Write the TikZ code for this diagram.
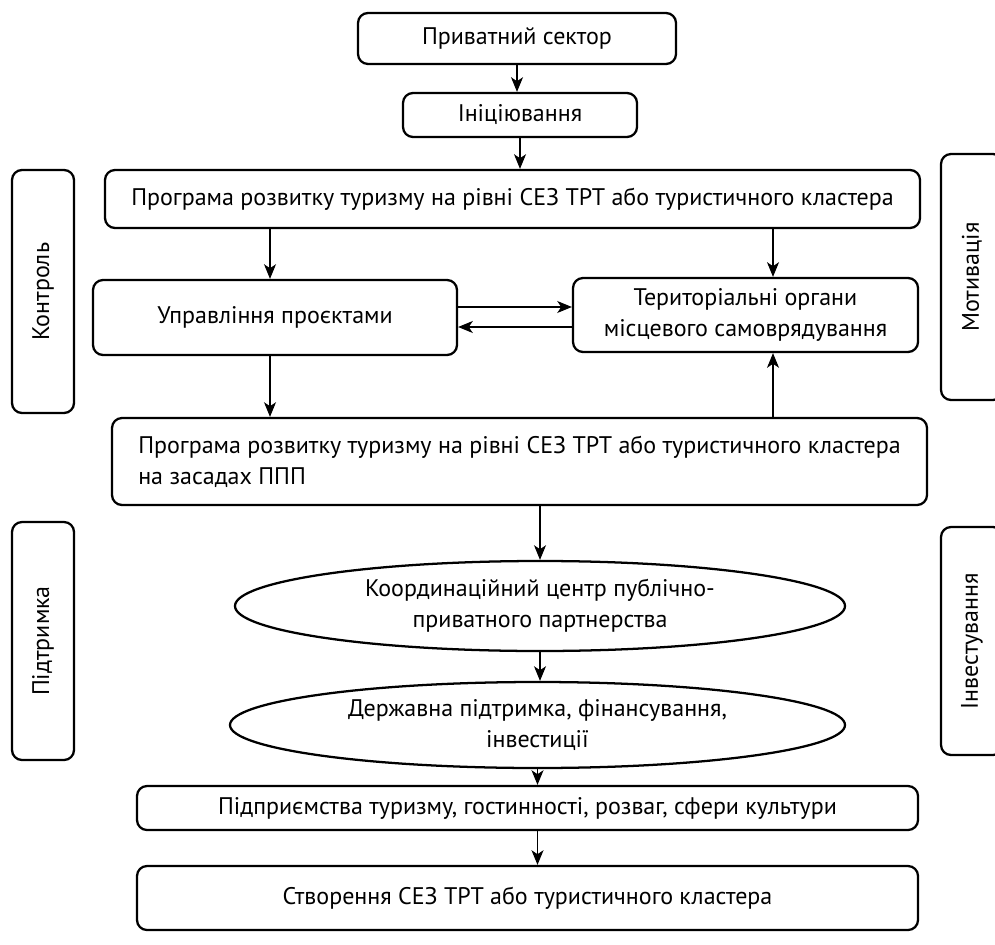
\documentclass[tikz,border=0pt]{standalone}
\usepackage{fontspec}
\setmainfont{PT Sans}
\usetikzlibrary{shapes.geometric,arrows.meta}

\begin{document}
\begin{tikzpicture}
  [x=0.75pt, y=-0.75pt, font=\fontsize{18}{23}\selectfont,
  box/.style={draw, rounded corners=7.5pt, line width=1.7pt, inner sep=0pt, align=center},
  side/.style={box, rotate=90, minimum height=62*0.75pt},
  oval/.style={draw, ellipse, line width=1.7pt, inner sep=0pt, align=center},
  link/.style={-{Stealth[length=11pt,width=9pt,inset=3pt]}, line width=0.8pt}]
  \useasboundingbox (0,0) rectangle (995,945);
  % main column
  \node[box, minimum width=318*0.75pt, minimum height=51*0.75pt] (private) at (517,38.5) {Приватний сектор};
  \node[box, minimum width=234*0.75pt, minimum height=44*0.75pt] (init) at (520,115) {Ініціювання};
  \node[box, minimum width=815*0.75pt, minimum height=58*0.75pt] (prog) at (512.5,199) {Програма розвитку туризму на рівні СЕЗ ТРТ або туристичного кластера};
  \node[box, minimum width=364*0.75pt, minimum height=75*0.75pt] (manage) at (275,317.5) {Управління проєктами};
  \node[box, minimum width=345*0.75pt, minimum height=74*0.75pt] (terr) at (745.5,315) {Територіальні органи\\місцевого самоврядування};
  \node[box, minimum width=815*0.75pt, minimum height=87*0.75pt, align=left] (ppp) at (519.5,461.5) {Програма розвитку туризму на рівні СЕЗ ТРТ або туристичного кластера\\на засадах ППП};
  \node[oval, minimum width=610*0.75pt, minimum height=90*0.75pt] (coord) at (540,606) {Координаційний центр публічно-\\приватного партнерства};
  \node[oval, minimum width=615*0.75pt, minimum height=86*0.75pt] (state) at (537.5,725) {Державна підтримка, фінансування,\\інвестиції};
  \node[box, minimum width=781*0.75pt, minimum height=44*0.75pt] (firms) at (527.5,808) {Підприємства туризму, гостинності, розваг, сфери культури};
  \node[box, minimum width=781*0.75pt, minimum height=64*0.75pt] (create) at (527.5,898) {Створення СЕЗ ТРТ або туристичного кластера};
  % side boxes
  \node[side, minimum width=243*0.75pt] (control) at (43,291.5) {Контроль};
  \node[side, minimum width=246*0.75pt] (motiv) at (972,277) {Мотивація};
  \node[side, minimum width=238*0.75pt] (support) at (43,641) {Підтримка};
  \node[side, minimum width=228*0.75pt] (invest) at (972,641) {Інвестування};
  % arrow lines
  \coordinate (ml) at (270,0);
  \coordinate (tr) at (773,0);
  \coordinate (hi) at (0,307);
  \coordinate (lo) at (0,327);
  \draw[link] (private.south) -- (private.south |- init.north);
  \draw[link] (init.south) -- (init.south |- prog.north);
  \draw[link] (prog.south -| ml) -- (manage.north -| ml);
  \draw[link] (prog.south -| tr) -- (terr.north -| tr);
  \draw[link] (manage.east |- hi) -- (terr.west |- hi);
  \draw[link] (terr.west |- lo) -- (manage.east |- lo);
  \draw[link] (manage.south -| ml) -- (ppp.north -| ml);
  \draw[link] (ppp.north -| tr) -- (terr.south -| tr);
  \draw[link] (ppp.south -| coord.north) -- (coord.north);
  \draw[link] (coord.south) -- (coord.south |- state.north);
  \draw[link] (state.south) -- (state.south |- firms.north);
  \draw[link] (firms.south -| state.south) -- (create.north -| state.south);
\end{tikzpicture}
\end{document}
